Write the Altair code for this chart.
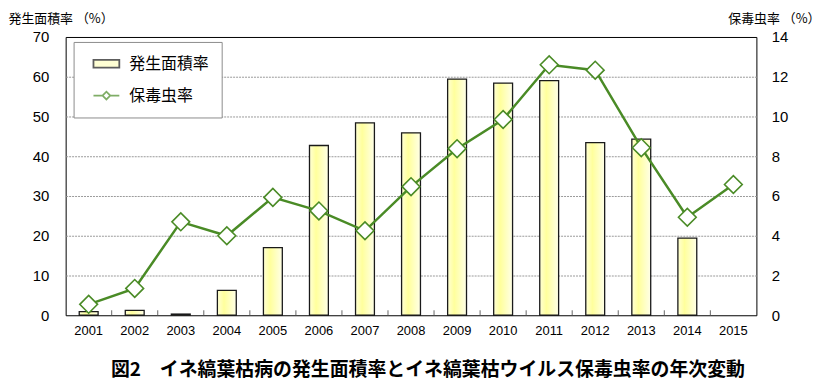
import altair as alt
import pandas as pd

# ---- data ----
years = [str(y) for y in range(2001, 2016)]
area_rate = [0.9, 1.25, 0.3, 6.25, 17.0, 42.7, 48.4, 45.9, 59.4, 58.4, 59.0, 43.4, 44.3, 19.4, None]
carrier_rate = [0.55, 1.35, 4.7, 4.0, 5.93, 5.25, 4.25, 6.47, 8.38, 9.85, 12.6, 12.33, 8.43, 4.93, 6.58]
left_ticks = [0, 10, 20, 30, 40, 50, 60, 70]
right_ticks = [0, 2, 4, 6, 8, 10, 12, 14]
series_names = ["発生面積率", "保毒虫率"]
left_title = "発生面積率 （%）"
right_title = "保毒虫率 （%）"
caption = "図2　イネ縞葉枯病の発生面積率とイネ縞葉枯ウイルス保毒虫率の年次変動"

df = pd.DataFrame({"year": years, "area": area_rate, "carrier": carrier_rate})
tick_df = pd.DataFrame({"year": years[1:]})
legend_df = pd.DataFrame({"series": series_names})

GREEN = "#4a8b26"
JP = "Noto Sans CJK JP"
NUM = "Liberation Sans"

x_enc = alt.X("year:O", sort=years,
              scale=alt.Scale(paddingInner=0, paddingOuter=0),
              axis=alt.Axis(orient="bottom", labelAngle=0, ticks=False, domain=False,
                            labelFontSize=13, labelFont=NUM, labelColor="black",
                            labelPadding=9, title=None))

bar_fill = alt.Gradient(
    gradient="linear",
    stops=[alt.GradientStop(color="#FFFFD6", offset=0),
           alt.GradientStop(color="#FFFF9C", offset=0.35),
           alt.GradientStop(color="#FFFFE8", offset=1)],
    x1=0, x2=1, y1=0, y2=0,
)

bars = alt.Chart(df).mark_bar(
    width=alt.RelativeBandSize(0.41), fill=bar_fill, stroke="#1a1a1a", strokeWidth=1.3
).encode(
    x=x_enc,
    y=alt.Y("area:Q", scale=alt.Scale(domain=[0, 70], nice=False),
            axis=alt.Axis(orient="left", values=left_ticks, grid=True,
                          gridColor="#999999", gridDash=[2, 1], gridWidth=1,
                          gridOpacity={"condition": {"test": "datum.value == 0 || datum.value == 70", "value": 0}, "value": 1},
                          ticks=False, domain=False,
                          labelFontSize=15, labelFont=NUM, labelColor="black", labelPadding=17,
                          title=left_title, titleAngle=0, titleX=-58, titleY=-19,
                          titleAlign="left", titleBaseline="middle",
                          titleFont=JP, titleFontSize=13, titleFontWeight="normal",
                          titleColor="black")),
)

ticks = alt.Chart(tick_df).mark_rule(color="#666666", strokeWidth=1).encode(
    x=alt.X("year:O", sort=years, bandPosition=0),
    y=alt.value(280), y2=alt.value(275),
)

right_y = alt.Y("carrier:Q", scale=alt.Scale(domain=[0, 14], nice=False),
                axis=alt.Axis(orient="right", values=right_ticks, grid=False,
                              ticks=False, domain=False,
                              labelFontSize=15, labelFont=NUM, labelColor="black", labelPadding=15,
                              title=right_title, titleAngle=0, titleX=64, titleY=-19,
                              titleAlign="right", titleBaseline="middle",
                              titleFont=JP, titleFontSize=13, titleFontWeight="normal",
                              titleColor="black"))

line = alt.Chart(df).mark_line(color=GREEN, strokeWidth=2.5).encode(x=alt.X("year:O", sort=years), y=right_y)
points = alt.Chart(df).mark_point(
    shape="diamond", size=320, filled=True, fill="white", stroke=GREEN, strokeWidth=1.6, opacity=1
).encode(x=alt.X("year:O", sort=years), y=right_y)
line_layer = alt.layer(line, points)

rect_path = "M-1,-0.3L1,-0.3L1,0.3L-1,0.3Z"
line_path = "M-1,0L-0.3,0M0.3,0L1,0M-0.3,0L0,-0.3L0.3,0L0,0.3Z"
leg = alt.Legend(title=None, orient="none", legendX=8, legendY=5, padding=12,
                 strokeColor="#8c8c8c", fillColor="#ffffff",
                 symbolSize=676, symbolStrokeWidth=1.8, symbolOffset=7,
                 labelOffset=9, labelFontSize=16, labelFont=JP, labelColor="black",
                 clipHeight=20, rowPadding=12, labelExpr="datum.label + '　'")

legend_layer = alt.Chart(legend_df).transform_filter("false").mark_point().encode(
    shape=alt.Shape("series:N", sort=series_names,
                    scale=alt.Scale(domain=series_names, range=[rect_path, line_path]), legend=leg),
    fill=alt.Fill("series:N", sort=series_names,
                  scale=alt.Scale(domain=series_names, range=["#FFFFA8", "#FFFFFF"]), legend=leg),
    stroke=alt.Stroke("series:N", sort=series_names,
                      scale=alt.Scale(domain=series_names, range=["#1a1a1a", GREEN]), legend=leg),
)

chart = alt.layer(bars, ticks, line_layer, legend_layer).resolve_scale(
    y="independent"
).properties(
    width=695, height=280,
    autosize=alt.AutoSizeParams(type="none"),
    padding={"left": 58, "top": 28, "right": 65, "bottom": 66},
    title=alt.Title(caption, orient="bottom", anchor="middle", fontSize=19, font=JP,
                    fontWeight="bold", color="black", offset=24, dx=17),
).configure_view(stroke="black", strokeWidth=1)

chart.save("out.html", embed_options={"renderer": "svg", "actions": False})
